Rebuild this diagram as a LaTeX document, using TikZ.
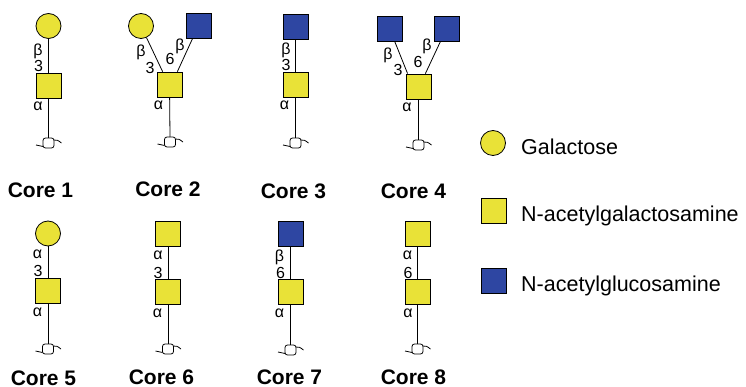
\documentclass[tikz,border=0pt]{standalone}
\usepackage{fontspec}
\setmainfont{Liberation Sans}
\definecolor{galy}{RGB}{233,226,55}
\definecolor{glcb}{RGB}{46,70,162}
\tikzset{
  sugar/.style={draw=black, line width=0.8pt, inner sep=0pt, minimum size=25pt},
  gal/.style={sugar, circle, fill=galy},
  galnac/.style={sugar, rectangle, fill=galy},
  glcnac/.style={sugar, rectangle, fill=glcb},
  bond/.style={line width=0.8pt},
  lnk/.style={font=\fontsize{16}{16}\selectfont, inner sep=0pt},
  corelab/.style={font=\fontsize{21}{24}\selectfont\bfseries, inner sep=0pt, anchor=base},
  leglab/.style={font=\fontsize{21.5}{24}\selectfont, inner sep=0pt, anchor=base west},
  redsym/.pic={
    \coordinate (-top) at (0,0);
    \draw[line width=0.8pt, rounded corners=2.5pt] (-5.5,0) rectangle (5.5,10);
    \draw[line width=0.8pt] (-12.5,7) .. controls (-9,7.3) .. (-5.5,8.5);
    \draw[line width=0.8pt] (5.5,2) .. controls (9,2) .. (13,5);
  }
}
\begin{document}
\begin{tikzpicture}[x=1pt, y=-1pt]
\useasboundingbox (0,0) rectangle (746,387);

% ---------- Core 1
\node[gal] (c1a) at (48.5,26) {};
\node[galnac] (c1b) at (48.5,85.5) {};
\pic (r1) at (48.5,138) {redsym};
\draw[bond] (c1a) -- (c1b);
\draw[bond] (c1b) -- (r1-top);
\node[lnk] (c1l1) at (38,51) {β};
\node[lnk] (c1l2) at (38.5,66) {3};
\node[lnk] (c1l3) at (38,106) {α};
\node[corelab] (c1t) at (40.5,198) {Core 1};

% ---------- Core 2
\node[gal] (c2a) at (141,26) {};
\node[glcnac] (c2b) at (198.5,25.5) {};
\node[galnac] (c2c) at (169.5,84.5) {};
\pic (r2) at (170,137) {redsym};
\coordinate (c2p) at ([xshift=6pt]c2c.north west);
\coordinate (c2q) at ([xshift=-5pt]c2c.north east);
\draw[bond] (c2p) -- (c2a);
\draw[bond] (c2q) -- (c2b);
\draw[bond] (c2c) -- (r2-top);
\node[lnk] (c2l1) at (141,52) {β};
\node[lnk] (c2l2) at (150,67.5) {3};
\node[lnk] (c2l3) at (170,59) {6};
\node[lnk] (c2l4) at (180,46) {β};
\node[lnk] (c2l5) at (158.5,105) {α};
\node[corelab] (c2t) at (168,196.5) {Core 2};

% ---------- Core 3
\node[glcnac] (c3a) at (295.5,26.5) {};
\node[galnac] (c3b) at (295.5,85) {};
\pic (r3) at (295.5,138) {redsym};
\draw[bond] (c3a) -- (c3b);
\draw[bond] (c3b) -- (r3-top);
\node[lnk] (c3l1) at (286,50) {β};
\node[lnk] (c3l2) at (286,64.5) {3};
\node[lnk] (c3l3) at (284.5,105) {α};
\node[corelab] (c3t) at (293.5,198.5) {Core 3};

% ---------- Core 4
\node[glcnac] (c4a) at (389.5,28.5) {};
\node[glcnac] (c4b) at (446.5,28.5) {};
\node[galnac] (c4c) at (418.5,86.5) {};
\pic (r4) at (418.5,140) {redsym};
\coordinate (c4p) at ([xshift=2pt]c4c.north west);
\coordinate (c4q) at ([xshift=-6pt]c4c.north east);
\draw[bond] (c4p) -- (c4a);
\draw[bond] (c4q) -- (c4b);
\draw[bond] (c4c) -- (r4-top);
\node[lnk] (c4l1) at (388,55) {β};
\node[lnk] (c4l2) at (398,69.5) {3};
\node[lnk] (c4l3) at (418,61.5) {6};
\node[lnk] (c4l4) at (427,46.5) {β};
\node[lnk] (c4l5) at (407,107) {α};
\node[corelab] (c4t) at (413.5,199) {Core 4};

% ---------- Core 5
\node[gal] (c5a) at (48,233.5) {};
\node[galnac] (c5b) at (48,291) {};
\pic (r5) at (48,344) {redsym};
\draw[bond] (c5a) -- (c5b);
\draw[bond] (c5b) -- (r5-top);
\node[lnk] (c5l1) at (37.5,254) {α};
\node[lnk] (c5l2) at (38,271) {3};
\node[lnk] (c5l3) at (37.5,312.5) {α};
\node[corelab] (c5t) at (43.5,385.5) {Core 5};

% ---------- Core 6
\node[galnac] (c6a) at (168,234) {};
\node[galnac] (c6b) at (168,292) {};
\pic (r6) at (168,344) {redsym};
\draw[bond] (c6a) -- (c6b);
\draw[bond] (c6b) -- (r6-top);
\node[lnk] (c6l1) at (158,255.5) {α};
\node[lnk] (c6l2) at (158,272.5) {3};
\node[lnk] (c6l3) at (157.5,313.5) {α};
\node[corelab] (c6t) at (161.5,384) {Core 6};

% ---------- Core 7
\node[glcnac] (c7a) at (290.5,234) {};
\node[galnac] (c7b) at (290.5,292) {};
\pic (r7) at (290.5,345) {redsym};
\draw[bond] (c7a) -- (c7b);
\draw[bond] (c7b) -- (r7-top);
\node[lnk] (c7l1) at (279.5,257.5) {β};
\node[lnk] (c7l2) at (280.5,273) {6};
\node[lnk] (c7l3) at (279.5,313.5) {α};
\node[corelab] (c7t) at (289.5,384) {Core 7};

% ---------- Core 8
\node[galnac] (c8a) at (417.5,234) {};
\node[galnac] (c8b) at (417.5,291.5) {};
\pic (r8) at (417.5,344) {redsym};
\draw[bond] (c8a) -- (c8b);
\draw[bond] (c8b) -- (r8-top);
\node[lnk] (c8l1) at (407.5,255.5) {α};
\node[lnk] (c8l2) at (408,272.5) {6};
\node[lnk] (c8l3) at (408,313.5) {α};
\node[corelab] (c8t) at (413.5,384) {Core 8};

% ---------- Legend
\node[gal] (lg1) at (493,143) {};
\node[galnac] (lg2) at (493.5,210.5) {};
\node[glcnac] (lg3) at (493.5,280.5) {};
\node[leglab] (lt1) at (521,155) {Galactose};
\node[leglab] (lt2) at (521,221.7) {N-acetylgalactosamine};
\node[leglab] (lt3) at (521,291.7) {N-acetylglucosamine};
\end{tikzpicture}
\end{document}
